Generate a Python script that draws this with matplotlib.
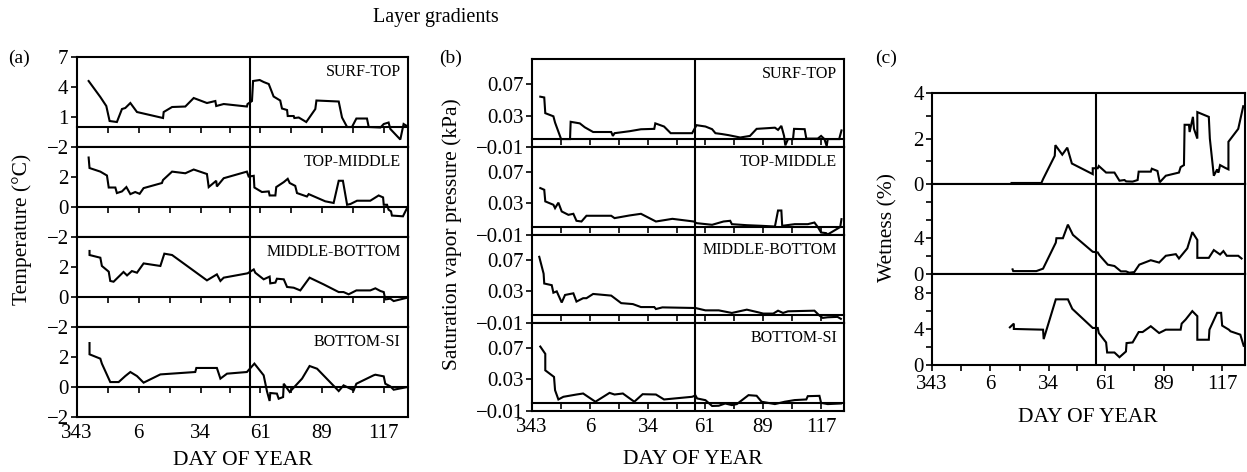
"""
Layer gradients over the season: temperature, saturation vapour pressure
and wetness differences between snow layers, by day of year.
"""
import matplotlib
matplotlib.use("Agg")
import matplotlib.pyplot as plt

plt.rcParams["font.family"] = ["Liberation Serif", "DejaVu Serif"]

# x axis runs continuously from day 343 into the next year (day 6 = 371 etc.)
MAJOR_DAYS = [343, 371, 399, 426, 454, 482]
DAY_LABELS = ["343", "6", "34", "61", "89", "117"]
MINOR_DAYS = [357, 385, 412.5, 440, 468]
SPLIT_DAY = 421.5
LAYERS = ["SURF-TOP", "TOP-MIDDLE", "MIDDLE-BOTTOM", "BOTTOM-SI"]

# ---- (a) temperature gradient, degC
t_surf_day = [348.3, 353.6, 356.3, 357.8, 361.1, 363.4, 364.9, 367.2, 370.2, 382.0, 382.3, 386.1, 392.1, 395.9,
              401.9, 405.7, 406.1, 409.5, 420.0, 420.3, 422.3, 422.8, 425.8, 427.6, 429.9, 432.1, 435.1, 435.9,
              438.2, 438.5, 441.2, 441.5, 443.5, 446.9, 451.0, 451.5, 461.6, 463.1, 465.4, 467.6, 469.6, 474.4,
              475.2, 480.5, 482.0, 484.2, 485.0, 489.5, 491.0, 492.5]
t_surf = [4.6, 3.0, 2.1, 0.6, 0.5, 1.8, 1.9, 2.4, 1.5, 0.9, 1.5, 2.0, 2.05, 2.9,
          2.4, 2.6, 2.1, 2.3, 2.05, 2.3, 2.6, 4.6, 4.7, 4.5, 4.3, 3.05, 2.65, 1.85,
          1.7, 1.1, 1.1, 0.9, 0.95, 0.5, 1.8, 2.65, 2.55, 0.95, 0.0, 0.0, 0.85, 0.85,
          0.0, -0.05, 0.3, 0.45, -0.2, -1.25, 0.3, 0.1]
t_top_day = [348.3, 348.7, 353.6, 356.6, 357.4, 360.4, 361.1, 363.4, 365.4, 367.2, 369.4, 371.4, 373.2, 381.5,
             382.0, 386.1, 392.1, 395.9, 401.9, 402.7, 406.1, 406.4, 409.5, 420.0, 420.8, 423.1, 423.4, 426.8,
             429.9, 430.3, 432.9, 433.3, 436.7, 438.5, 439.4, 441.9, 442.7, 447.2, 448.0, 455.5, 459.3, 461.6,
             463.5, 465.4, 466.9, 469.9, 475.9, 479.7, 481.7, 482.0, 483.5, 484.2, 485.3, 485.7, 490.7, 492.8]
t_top = [3.3, 2.6, 2.36, 2.1, 1.3, 1.3, 0.93, 1.04, 1.33, 0.86, 1.0, 0.88, 1.26, 1.6,
         1.8, 2.36, 2.25, 2.5, 2.2, 1.33, 1.75, 1.37, 1.92, 2.36, 2.03, 2.08, 1.3, 1.0,
         1.04, 0.77, 0.77, 1.33, 1.66, 1.88, 1.6, 1.41, 0.93, 0.7, 0.86, 0.38, 0.27, 1.75,
         1.75, 0.15, 0.2, 0.42, 0.42, 0.77, 0.64, 0.15, 0.15, -0.18, -0.29, -0.57, -0.62, 0.0]
t_mid_day = [348.7, 348.7, 353.6, 354.3, 357.4, 358.1, 359.6, 364.1, 365.7, 367.9, 370.2, 373.2, 380.8, 382.6,
             386.1, 401.9, 406.4, 408.0, 409.5, 420.3, 423.1, 423.8, 427.6, 430.3, 430.6, 432.9, 433.6, 436.7,
             438.2, 441.2, 444.2, 448.4, 454.8, 461.6, 463.8, 466.1, 469.6, 475.9, 478.2, 480.5, 482.0, 482.7,
             485.0, 486.5, 492.8]
t_mid = [3.07, 2.8, 2.62, 2.07, 1.69, 1.07, 1.02, 1.67, 1.44, 1.73, 1.62, 2.24, 2.07, 2.89,
         2.8, 1.11, 1.51, 1.07, 1.29, 1.58, 1.84, 1.62, 1.18, 1.36, 0.91, 0.96, 1.22, 1.18,
         0.67, 0.62, 0.44, 1.29, 0.84, 0.33, 0.33, 0.18, 0.44, 0.44, 0.58, 0.4, 0.33, -0.16,
         -0.11, -0.27, -0.04]
t_bot_day = [348.7, 348.7, 353.6, 354.3, 358.1, 361.9, 364.9, 367.2, 370.2, 373.2, 380.8, 396.6, 397.1, 406.4,
             408.0, 411.0, 420.0, 423.4, 427.6, 429.1, 430.3, 430.6, 433.6, 434.4, 436.4, 436.7, 439.4, 445.0,
             448.4, 451.8, 461.6, 463.8, 468.4, 469.6, 477.4, 478.2, 482.0, 482.7, 485.0, 486.5, 492.8]
t_bot = [2.93, 2.18, 1.89, 1.56, 0.33, 0.33, 0.73, 1.0, 0.73, 0.29, 0.84, 1.0, 1.27, 1.27,
         0.56, 0.89, 1.0, 1.56, 0.78, -0.29, -0.93, -0.4, -0.44, -0.78, -0.67, 0.22, -0.33, 0.56,
         1.4, 1.22, -0.27, 0.11, -0.22, 0.22, 0.78, 0.82, 0.71, 0.22, 0.04, -0.18, 0.0]

# ---- (b) saturation vapour pressure gradient, kPa
v_surf_day = [347.0, 348.9, 349.4, 353.3, 354.1, 357.0, 361.3, 361.6, 366.0, 368.4, 372.4, 381.1, 381.9, 382.7,
              389.9, 395.4, 401.8, 402.3, 406.5, 409.7, 420.0, 422.1, 426.4, 429.6, 431.2, 434.3, 437.5, 443.1,
              447.8, 451.0, 459.8, 461.3, 462.9, 464.2, 464.8, 466.1, 468.5, 469.0, 474.1, 474.9, 480.4, 482.0,
              483.6, 484.7, 485.2, 490.7, 491.8]
v_surf = [0.054, 0.053, 0.033, 0.029, 0.021, 0.0, 0.0, 0.022, 0.020, 0.015, 0.009, 0.009, 0.004, 0.0075,
          0.010, 0.0125, 0.013, 0.020, 0.016, 0.0075, 0.0075, 0.0177, 0.016, 0.0126, 0.0075, 0.0064, 0.005, 0.002,
          0.004, 0.013, 0.0145, 0.0117, 0.0168, 0.004, -0.008, 0.0, 0.0, 0.013, 0.0126, 0.0006, 0.0006, 0.004,
          0.0, -0.009, 0.0, 0.0, 0.011]
v_top_day = [347.0, 348.9, 349.4, 353.3, 354.1, 355.7, 357.3, 360.5, 362.9, 364.4, 366.8, 369.2, 381.1, 382.7,
             389.9, 395.4, 402.6, 407.3, 410.5, 420.8, 422.1, 429.6, 435.1, 438.3, 439.1, 446.3, 453.4, 459.8,
             461.3, 462.9, 463.3, 469.3, 475.6, 478.8, 480.4, 482.0, 484.4, 485.2, 491.2, 491.8]
v_top = [0.0496, 0.0474, 0.0326, 0.0283, 0.024, 0.031, 0.0198, 0.0155, 0.0168, 0.0079, 0.007, 0.0143, 0.0143, 0.0113,
         0.0147, 0.0168, 0.007, 0.009, 0.0104, 0.007, 0.0049, 0.0028, 0.007, 0.0079, 0.0036, 0.0023, 0.0015, 0.0006,
         0.021, 0.021, 0.0015, 0.0036, 0.0036, 0.0057, 0.0, -0.007, -0.0078, -0.0095, 0.0, 0.01]
v_mid_day = [346.5, 348.6, 348.9, 352.5, 353.3, 354.9, 357.3, 358.9, 361.3, 362.9, 364.4, 367.6, 369.2, 372.4,
             381.1, 385.9, 391.5, 395.4, 401.8, 402.6, 405.7, 421.6, 426.4, 432.8, 439.1, 446.3, 451.8, 454.2,
             459.0, 461.3, 463.7, 466.1, 478.8, 481.2, 482.8, 485.2, 489.9, 491.5]
v_mid = [0.074, 0.0525, 0.040, 0.0379, 0.0283, 0.030, 0.0158, 0.0254, 0.0267, 0.0275, 0.017, 0.0213, 0.0213, 0.0267,
         0.0246, 0.015, 0.0138, 0.010, 0.010, 0.0075, 0.0096, 0.0088, 0.0058, 0.0058, 0.0025, 0.0067, 0.0033, 0.0017,
         0.0017, 0.0054, 0.0025, 0.0046, 0.0054, -0.0008, -0.0038, -0.003, -0.0025, -0.005]
v_bot_day = [347.0, 349.4, 349.4, 353.6, 354.1, 355.7, 358.1, 364.4, 367.6, 373.5, 380.3, 382.7, 386.7, 392.2,
             396.2, 402.6, 406.5, 420.0, 421.6, 422.4, 426.4, 429.6, 432.8, 435.9, 439.1, 441.5, 447.1, 451.0,
             453.4, 459.8, 464.5, 469.3, 474.9, 475.6, 481.2, 482.0, 485.2, 491.5]
v_bot = [0.0717, 0.0624, 0.0414, 0.033, 0.0161, 0.0043, 0.0077, 0.0106, 0.0119, 0.0014, 0.0127, 0.0106, 0.0119, 0.0014,
         0.011, 0.0106, 0.0043, 0.0077, 0.0094, 0.0056, 0.0034, -0.004, -0.0037, -0.0008, -0.0029, -0.0016, 0.0098, 0.009,
         0.0014, -0.0016, 0.0014, 0.0035, 0.0043, 0.0085, 0.0089, 0.0, -0.0016, -0.0008]

# ---- (c) wetness, %
w_top_day = [381.1, 395.4, 396.2, 401.8, 402.1, 405.4, 407.8, 410.0, 420.0, 420.0, 422.4, 422.9, 426.4, 430.4,
             432.8, 435.2, 436.0, 439.1, 441.5, 442.0, 447.8, 448.3, 451.0, 452.1, 455.0, 461.3, 462.1, 463.7,
             464.0, 466.1, 466.4, 468.0, 468.5, 470.1, 470.1, 475.6, 476.1, 478.0, 479.6, 480.2, 481.0, 483.4,
             485.0, 485.0, 489.7, 492.1]
w_top = [0.04, 0.04, 0.21, 1.24, 1.71, 1.29, 1.6, 0.9, 0.43, 0.69, 0.69, 0.79, 0.5, 0.5,
         0.14, 0.17, 0.11, 0.1, 0.17, 0.54, 0.54, 0.67, 0.57, 0.07, 0.36, 0.5, 0.74, 0.83,
         2.61, 2.61, 2.29, 2.96, 2.43, 2.0, 3.17, 2.96, 2.0, 0.36, 0.64, 0.5, 0.83, 0.71,
         0.64, 1.86, 2.43, 3.43]
w_mid_day = [381.6, 381.9, 393.0, 396.2, 402.3, 402.6, 405.7, 408.1, 410.5, 420.0, 422.4, 423.2, 427.2, 430.4,
             433.5, 435.9, 437.5, 439.9, 442.3, 447.8, 451.8, 455.0, 459.8, 461.3, 465.3, 467.7, 470.1, 470.1,
             475.6, 478.0, 481.0, 482.6, 484.2, 489.7, 491.3]
w_mid = [0.56, 0.37, 0.37, 0.64, 3.51, 4.0, 4.0, 5.5, 4.37, 2.5, 2.43, 2.13, 1.08, 0.93,
         0.34, 0.34, 0.19, 0.26, 1.08, 1.57, 1.31, 2.06, 2.24, 1.76, 2.88, 4.67, 3.81, 1.83,
         1.83, 2.69, 2.2, 2.58, 2.06, 2.06, 1.76]
w_bot_day = [380.3, 382.2, 382.2, 396.2, 396.5, 402.3, 408.1, 410.2, 420.0, 422.4, 422.9, 426.4, 426.9, 430.4,
             432.8, 435.9, 436.2, 439.1, 442.0, 443.9, 447.8, 451.8, 455.0, 462.1, 462.6, 464.5, 467.7, 470.1,
             470.1, 475.6, 475.9, 479.6, 481.5, 482.0, 485.2, 486.0, 490.7, 492.3]
w_bot = [4.16, 4.57, 3.98, 3.9, 2.86, 7.25, 7.25, 6.2, 4.09, 4.09, 3.53, 2.49, 1.38, 1.38,
         0.86, 1.49, 2.42, 2.49, 3.64, 3.64, 4.28, 3.53, 3.9, 3.9, 4.57, 5.02, 5.95, 5.39,
         2.79, 2.79, 3.9, 5.76, 5.76, 4.35, 3.9, 3.72, 3.35, 2.12]

LW = 1.5
TICK_FS = 15
LABEL_FS = 15.5


def panel(ax, day, val, ylim, yticks, yticklabels, bottom, name=None,
          minor_y=None, zero_axis=True):
    ax.plot(day, val, color="black", lw=LW, solid_joinstyle="miter")
    ax.axvline(SPLIT_DAY, color="black", lw=LW)
    ax.set_xlim(343, 493)
    ax.set_ylim(*ylim)
    ax.set_yticks(yticks, yticklabels)
    if minor_y:
        ax.set_yticks(minor_y, minor=True)
    ax.tick_params(axis="y", which="both", direction="out", length=4, width=1.2, labelsize=TICK_FS, pad=2)
    for s in ax.spines.values():
        s.set_linewidth(LW)
    if zero_axis:
        # day ticks hang off the zero line; the labels go under the frame
        ax.set_xticks(MAJOR_DAYS, DAY_LABELS if bottom else [""] * len(MAJOR_DAYS))
        ax.tick_params(axis="x", length=0, labelsize=TICK_FS, pad=5)
        sec = ax.secondary_xaxis(-ylim[0] / (ylim[1] - ylim[0]))
        sec.set_xticks(MAJOR_DAYS)
        sec.set_xticks(MINOR_DAYS, minor=True)
        sec.tick_params(which="both", direction="out", length=4, width=1.2, labelbottom=False)
        for s in sec.spines.values():
            s.set_linewidth(LW)
    else:
        ax.set_xticks(MAJOR_DAYS, DAY_LABELS if bottom else [""] * len(MAJOR_DAYS))
        ax.set_xticks(MINOR_DAYS, minor=True)
        ax.tick_params(axis="x", which="both", direction="out", length=4, width=1.2, labelsize=TICK_FS, pad=3)
    if name:
        ax.text(0.978, 0.83, name, transform=ax.transAxes, ha="right", va="center", fontsize=11.5)


fig = plt.figure(figsize=(12.47, 4.72), dpi=100)

# (a) temperature
gs = fig.add_gridspec(4, 1, left=0.0617, right=0.3272, top=0.8792, bottom=0.1165, hspace=0)
t_series = [(t_surf_day, t_surf), (t_top_day, t_top), (t_mid_day, t_mid), (t_bot_day, t_bot)]
for i, (d, v) in enumerate(t_series):
    ax = fig.add_subplot(gs[i])
    if i == 0:
        panel(ax, d, v, (-2, 7), [-2, 1, 4, 7], ["\u22122", "1", "4", "7"], False, LAYERS[i])
    else:
        panel(ax, d, v, (-2, 4), [-2, 0, 2], ["\u22122", "0", "2"], i == 3, LAYERS[i])

# (b) saturation vapour pressure
gs = fig.add_gridspec(4, 1, left=0.4266, right=0.6768, top=0.875, bottom=0.1299, hspace=0)
v_series = [(v_surf_day, v_surf), (v_top_day, v_top), (v_mid_day, v_mid), (v_bot_day, v_bot)]
for i, (d, v) in enumerate(v_series):
    ax = fig.add_subplot(gs[i])
    panel(ax, d, v, (-0.01, 0.102), [-0.01, 0.03, 0.07], ["\u22120.01", "0.03", "0.07"], i == 3, LAYERS[i])

# (c) wetness
gs = fig.add_gridspec(3, 1, left=0.7474, right=0.9985, top=0.8023, bottom=0.2267, hspace=0)
ax = fig.add_subplot(gs[0])
panel(ax, w_top_day, w_top, (0, 4), [0, 2, 4], ["0", "2", "4"], False, minor_y=[1, 3], zero_axis=False)
ax = fig.add_subplot(gs[1])
panel(ax, w_mid_day, w_mid, (0, 10), [0, 4], ["0", "4"], False, minor_y=[2, 6, 8], zero_axis=False)
ax = fig.add_subplot(gs[2])
panel(ax, w_bot_day, w_bot, (0, 10), [0, 4, 8], ["0", "4", "8"], True, minor_y=[2, 6], zero_axis=False)

fig.text(0.3496, 0.962, "Layer gradients", ha="center", va="center", fontsize=14.5)
for x, lab in [(0.0152, "(a)"), (0.3617, "(b)"), (0.7105, "(c)")]:
    fig.text(x, 0.877, lab, ha="center", va="center", fontsize=14)
fig.text(0.0176, 0.513, "Temperature (\u00b0C)", rotation=90, ha="center", va="center", fontsize=LABEL_FS)
fig.text(0.3625, 0.504, "Saturation vapor pressure (kPa)", rotation=90, ha="center", va="center", fontsize=LABEL_FS)
fig.text(0.712, 0.517, "Wetness (%)", rotation=90, ha="center", va="center", fontsize=LABEL_FS)
fig.text(0.1949, 0.024, "DAY OF YEAR", ha="center", va="center", fontsize=LABEL_FS)
fig.text(0.5557, 0.0275, "DAY OF YEAR", ha="center", va="center", fontsize=LABEL_FS)
fig.text(0.8725, 0.1165, "DAY OF YEAR", ha="center", va="center", fontsize=LABEL_FS)

fig.savefig("out.png", dpi=100)
